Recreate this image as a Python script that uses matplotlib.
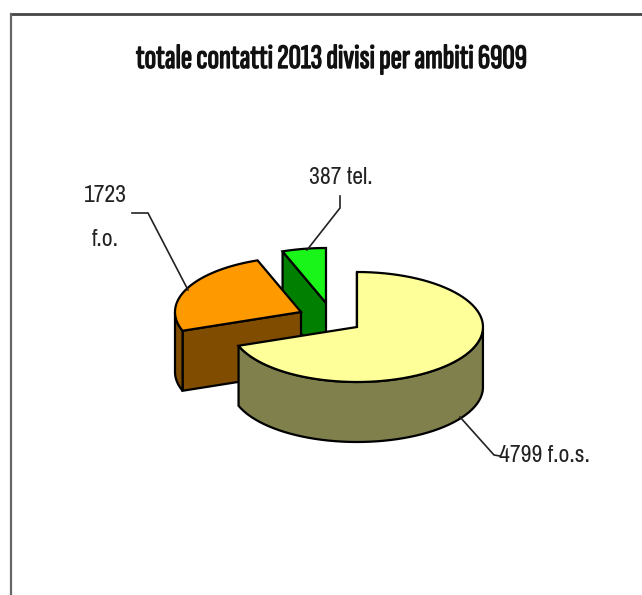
import numpy as np
import matplotlib
matplotlib.use('Agg')
import matplotlib.pyplot as plt
import matplotlib.patheffects as pe

categories = ['f.o.s.', 'f.o.', 'tel.']
values = [4799, 1723, 387]
title = 'totale contatti 2013 divisi per ambiti 6909'

top_colors = ['#FFFF99', '#FF9900', '#19F519']
side_colors = ['#80804D', '#804C00', '#007F00']
# pie centre of each slice once pulled out
centres = [(357, 327), (301, 312), (326, 303)]
RX, RY, DEPTH = 126, 55, 60


def arc(c, a0, a1):
    t = np.radians(np.linspace(a0, a1, 80))
    return c[0] + RX * np.cos(t), c[1] - RY * np.sin(t)


def draw_slice(ax, c, a0, a1, top, side, z):
    x, y = arc(c, a0, a1)
    # cut face on the starting edge, then the visible rim below the arc
    cx = [c[0], x[0], x[0], c[0]]
    cy = [c[1], y[0], y[0] + DEPTH, c[1] + DEPTH]
    ax.fill(cx, cy, fc=side, ec='black', lw=1.6, zorder=z)
    front = np.sin(np.radians(np.linspace(a0, a1, 80))) < 0
    if front.any():
        fx, fy = x[front], y[front]
        ax.fill(np.r_[fx, fx[::-1]], np.r_[fy, fy[::-1] + DEPTH],
                fc=side, ec='black', lw=1.6, zorder=z)
    ax.fill(np.r_[c[0], x], np.r_[c[1], y], fc=top, ec='black', lw=1.6, zorder=z + 0.5)


fig = plt.figure(figsize=(6.42, 5.95), dpi=100)
ax = fig.add_axes([0, 0, 1, 1])
ax.set_xlim(0, 642)
ax.set_ylim(595, 0)
ax.axis('off')

# frame only shows on the top and left
ax.plot([11, 642], [14, 14], color='#444444', lw=2)
ax.plot([11, 11], [14, 595], color='#666666', lw=1.6)

# slices run clockwise from twelve o'clock
angle = 90.0
total = sum(values)
for i, v in enumerate(values):
    sweep = 360.0 * v / total
    draw_slice(ax, centres[i], angle, angle - sweep, top_colors[i], side_colors[i], 5 - i)
    angle -= sweep

title_font = ['Sofia Sans Extra Condensed', 'Liberation Sans']
font = ['Archivo Narrow', 'Liberation Sans']
t = ax.text(332, 59, title, family=title_font, fontsize=24.6,
            ha='center', va='center', color='#111111')
t.set_path_effects([pe.withStroke(linewidth=1.0, foreground='#111111')])

# leader lines and labels
line = dict(color='#222222', lw=1.2, zorder=6)
ax.plot([307, 340, 340], [250, 208, 196], **line)
ax.plot([132, 148, 188], [213, 213, 290], **line)
ax.plot([460, 494, 500], [417, 455, 456], **line)

label = dict(family=font, fontsize=17, color='#222222', ha='center', va='center')
ax.text(341, 177, f'{values[2]} {categories[2]}', **label)
ax.text(105, 196, f'{values[1]}', **label)
ax.text(105, 240, categories[1], **label)
ax.text(544, 456, f'{values[0]} {categories[0]}', **label)

fig.savefig('out.png', dpi=100)
